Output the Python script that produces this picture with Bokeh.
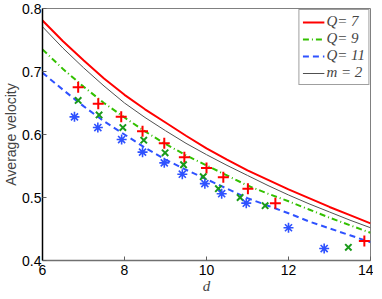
from bokeh.plotting import figure
from bokeh.models import Range1d, FixedTicker, Legend, LegendItem
from bokeh.embed import file_html
from bokeh.resources import INLINE

# ---- data ----
d_curve = [6, 6.5, 7, 7.5, 8, 8.5, 9, 9.5, 10, 10.5, 11, 11.5, 12, 12.5, 13, 13.5, 14]
q7_curve = [0.781, 0.748, 0.718, 0.689, 0.663, 0.640, 0.619, 0.598, 0.578, 0.560,
            0.543, 0.528, 0.513, 0.499, 0.485, 0.472, 0.459]
m2_curve = [0.771, 0.737, 0.706, 0.677, 0.650, 0.627, 0.606, 0.586, 0.568, 0.551,
            0.535, 0.519, 0.504, 0.490, 0.477, 0.464, 0.452]
q9_curve = [0.735, 0.704, 0.676, 0.650, 0.627, 0.605, 0.585, 0.567, 0.551, 0.535,
            0.519, 0.506, 0.494, 0.481, 0.468, 0.456, 0.444]
q11_curve = [0.698, 0.671, 0.645, 0.621, 0.600, 0.579, 0.560, 0.544, 0.529, 0.514,
             0.499, 0.487, 0.475, 0.462, 0.451, 0.440, 0.429]

q7_d = [6.87, 7.36, 7.92, 8.44, 8.97, 9.46, 10.0, 10.41, 11.01, 11.68, 13.85]
q7_v = [0.675, 0.649, 0.628, 0.605, 0.586, 0.564, 0.547, 0.532, 0.514, 0.491, 0.431]
q9_d = [6.87, 7.38, 7.96, 8.47, 8.99, 9.44, 9.92, 10.29, 10.82, 11.43, 13.46]
q9_v = [0.654, 0.631, 0.611, 0.591, 0.571, 0.552, 0.533, 0.514, 0.500, 0.487, 0.421]
q11_d = [6.78, 7.35, 7.93, 8.44, 8.97, 9.41, 9.96, 10.37, 10.97, 12.0, 12.87]
q11_v = [0.628, 0.611, 0.592, 0.572, 0.555, 0.537, 0.522, 0.506, 0.491, 0.452, 0.419]

x_ticks = [6, 8, 10, 12, 14]
y_ticks = [0.4, 0.5, 0.6, 0.7, 0.8]
labels = ["Q= 7", "Q= 9", "Q= 11", "m = 2"]

RED = "#ff0000"
GREEN_L = "#33c000"
GREEN_M = "#1a9a1a"
BLUE = "#2f52ff"
GRAY = "#505050"

p = figure(frame_width=328, frame_height=252, output_backend="svg",
           toolbar_location=None, x_range=Range1d(6, 14), y_range=Range1d(0.4, 0.8),
           min_border_top=8, min_border_right=3, min_border_left=0, min_border_bottom=0)
p.xgrid.visible = False
p.ygrid.visible = False
p.background_fill_color = "white"
p.border_fill_color = "white"
p.outline_line_color = "#808080"
p.outline_line_width = 1

tick_font = "Liberation Sans"
for ax, ticks in ((p.xaxis[0], x_ticks), (p.yaxis[0], y_ticks)):
    ax.ticker = FixedTicker(ticks=ticks)
    ax.major_tick_in = 4
    ax.major_tick_out = 0
    ax.minor_tick_in = 0
    ax.minor_tick_out = 0
    ax.major_label_text_font = tick_font
    ax.major_label_text_font_size = "14px"
    ax.major_label_text_color = "black"
    ax.major_tick_line_color = "#606060"

p.yaxis[0].axis_line_color = "black"
p.yaxis[0].axis_line_width = 1.5
p.xaxis[0].axis_line_color = "#707070"
p.xaxis[0].axis_line_width = 1.5
p.yaxis[0].major_label_standoff = 1
p.xaxis[0].major_label_standoff = 4
p.yaxis[0].axis_label = "Average velocity"
p.yaxis[0].axis_label_text_font = tick_font
p.yaxis[0].axis_label_text_font_style = "normal"
p.yaxis[0].axis_label_text_font_size = "14px"
p.yaxis[0].axis_label_standoff = 0
p.xaxis[0].axis_label = "d"
p.xaxis[0].axis_label_text_font = "Liberation Serif"
p.xaxis[0].axis_label_text_font_style = "italic"
p.xaxis[0].axis_label_text_font_size = "15px"
p.xaxis[0].axis_label_standoff = 0

r1 = p.line(d_curve, q7_curve, line_color=RED, line_width=2)
r2 = p.line(d_curve, q9_curve, line_color=GREEN_L, line_width=2, line_dash="6 3 1 3")
r3 = p.line(d_curve, q11_curve, line_color=BLUE, line_width=2, line_dash="6 4")
r4 = p.line(d_curve, m2_curve, line_color=GRAY, line_width=1)

p.scatter(q7_d, q7_v, marker="cross", size=11, line_color=RED, line_width=2)
p.scatter(q9_d, q9_v, marker="x", size=9, line_color=GREEN_M, line_width=2)
p.scatter(q11_d, q11_v, marker="asterisk", size=10, line_color=BLUE, line_width=1.6)

legend = Legend(items=[LegendItem(label=labels[0], renderers=[r1]),
                       LegendItem(label=labels[1], renderers=[r2]),
                       LegendItem(label=labels[2], renderers=[r3]),
                       LegendItem(label=labels[3], renderers=[r4])],
                location="top_right")
legend.margin = 1
legend.padding = 3
legend.spacing = 0
legend.glyph_width = 22
legend.glyph_height = 16
legend.label_height = 16
legend.label_standoff = 2
legend.label_text_font = "Liberation Serif"
legend.label_text_font_size = "15px"
legend.label_text_font_style = "italic"
legend.border_line_color = "#404040"
legend.border_line_width = 1
legend.background_fill_color = "white"
legend.background_fill_alpha = 1
p.add_layout(legend)

open("out.html", "w").write(file_html(p, INLINE))
